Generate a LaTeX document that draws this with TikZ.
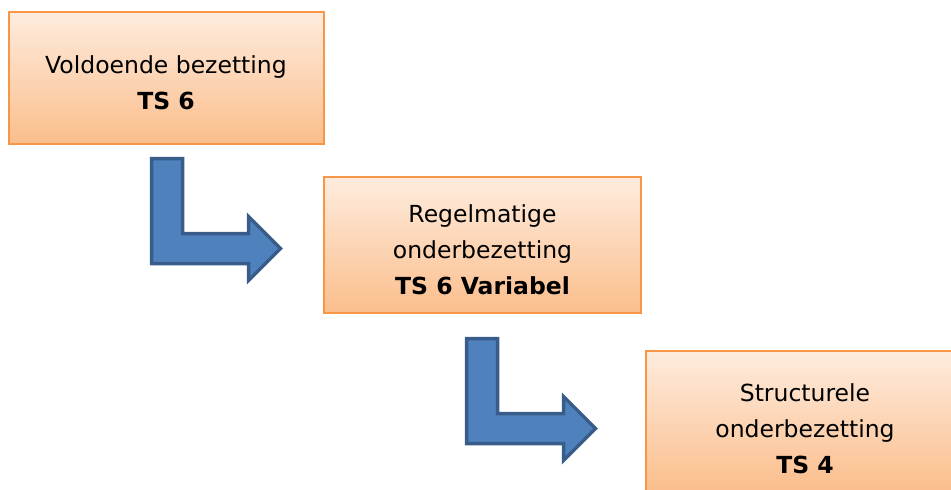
\documentclass[tikz,border=0pt]{standalone}
\usepackage{fontspec}
\setmainfont{DejaVu Sans}
\definecolor{boxedge}{RGB}{247,150,70}
\definecolor{boxtop}{RGB}{254,236,222}
\definecolor{boxbottom}{RGB}{251,190,140}
\definecolor{arrowfill}{RGB}{79,129,189}
\definecolor{arrowedge}{RGB}{56,93,138}
\tikzset{
  stage/.style={draw=boxedge, line width=2pt, top color=boxtop, bottom color=boxbottom, inner sep=0pt},
  stagetext/.style={align=center, inner sep=0pt, font=\fontsize{23.5}{36}\selectfont},
  arrowline/.style={draw=arrowedge, fill=arrowfill, line width=3.5pt},
  bendarrow/.pic={
    \draw[arrowline] (0,0) -- (31,0) -- (31,75) -- (97,75) -- (97,58) -- (129,90)
      -- (97,122) -- (97,105) -- (0,105) -- cycle;
  }
}
\begin{document}
\begin{tikzpicture}[x=1pt,y=-1pt]
		\useasboundingbox (0,0) rectangle (951,490);
		\clip (0,0) rectangle (951,490);
		% the three stages
		\node[stage, minimum width=315pt, minimum height=132pt] (vold) at (166,77.5) {};
		\node[stage, minimum width=317pt, minimum height=136pt] (regel) at (482.5,245) {};
		\node[stage, minimum width=318pt, minimum height=140pt] (struc) at (805,421) {};
		\node[stagetext] (voldtext) at ([yshift=-5pt]vold.center)
			{Voldoende bezetting\\\textbf{TS 6}};
		\node[stagetext] (regeltext) at ([yshift=-5pt]regel.center)
			{Regelmatige\\onderbezetting\\\textbf{TS 6 Variabel}};
		\node[stagetext] (structext) at ([yshift=-8pt]struc.center)
			{Structurele\\onderbezetting\\\textbf{TS 4}};
		% bent arrows between them
		\pic at (151.5,158.5) {bendarrow};
		\pic at (466.5,338.5) {bendarrow};
	\end{tikzpicture}
\end{document}
